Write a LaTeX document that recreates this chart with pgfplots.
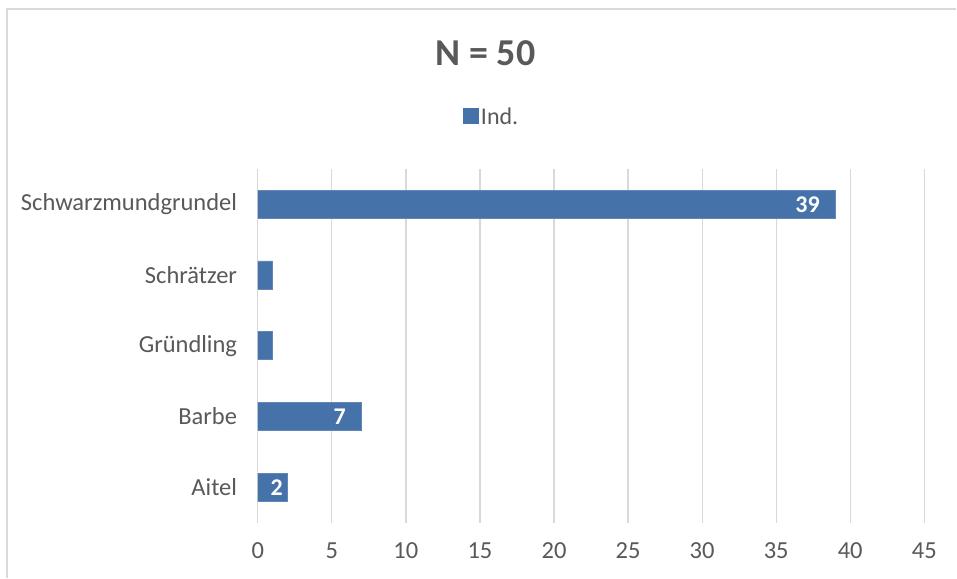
\documentclass[border=0pt]{standalone}
\usepackage{pgfplots}
\pgfplotsset{compat=1.18}
\usepackage{fontspec}
\setmainfont{Carlito}
\definecolor{txt}{HTML}{595959}
\definecolor{barblue}{HTML}{4672AA}
\definecolor{gridc}{HTML}{D9D9D9}
\begin{document}
\begin{tikzpicture}
\fill[white] (0pt,0pt) rectangle (957pt,578pt);
\draw[gridc, line width=1.5pt] (7pt,0pt) -- (7pt,569pt) -- (957pt,569pt);
\node[text=txt, font=\fontsize{38}{44}\selectfont\bfseries] at (486pt,525pt) {N = 50};
\begin{axis}[
    at={(258pt,55pt)}, anchor=south west,
    scale only axis, width=667pt, height=354pt,
    xbar, bar width=28pt, bar shift=0pt,
    xmin=0, xmax=45, ymin=-0.5, ymax=4.5,
    xtick={0,5,...,45},
    ytick={0,1,2,3,4},
    yticklabels={Aitel, Barbe, Gründling, Schrätzer, Schwarzmundgrundel},
    axis line style={draw=none},
    tick style={draw=none},
    xmajorgrids, grid style={gridc, line width=1.2pt},
    ticklabel style={text=txt, font=\fontsize{24.5}{28}\selectfont},
    /pgf/number format/assume math mode=true,
    yticklabel style={xshift=-13pt},
    xticklabel style={yshift=-17pt},
    point meta=explicit symbolic,
    nodes near coords,
    nodes near coords style={anchor=east, xshift=-12pt, text=white,
        font=\fontsize{24}{28}\selectfont\bfseries},
    legend style={at={(0.351,1.147)}, anchor=center, draw=none, fill=none,
        font=\fontsize{24}{28}\selectfont, text=txt,
        /tikz/every even column/.append style={column sep=2pt}},
    legend image code/.code={\fill[barblue] (0pt,-7pt) rectangle (15pt,8pt);},
]
\addplot[fill=barblue, draw=barblue!85!white, line width=0.8pt]
    coordinates {(2,0) [] (7,1) [7] (1,2) [] (1,3) [] (39,4) [39]};
\addlegendentry{Ind.}
\addplot[draw=none, fill=none, forget plot,
    nodes near coords style={xshift=11pt}]
    coordinates {(2,0) [2]};
\end{axis}
\end{tikzpicture}
\end{document}
